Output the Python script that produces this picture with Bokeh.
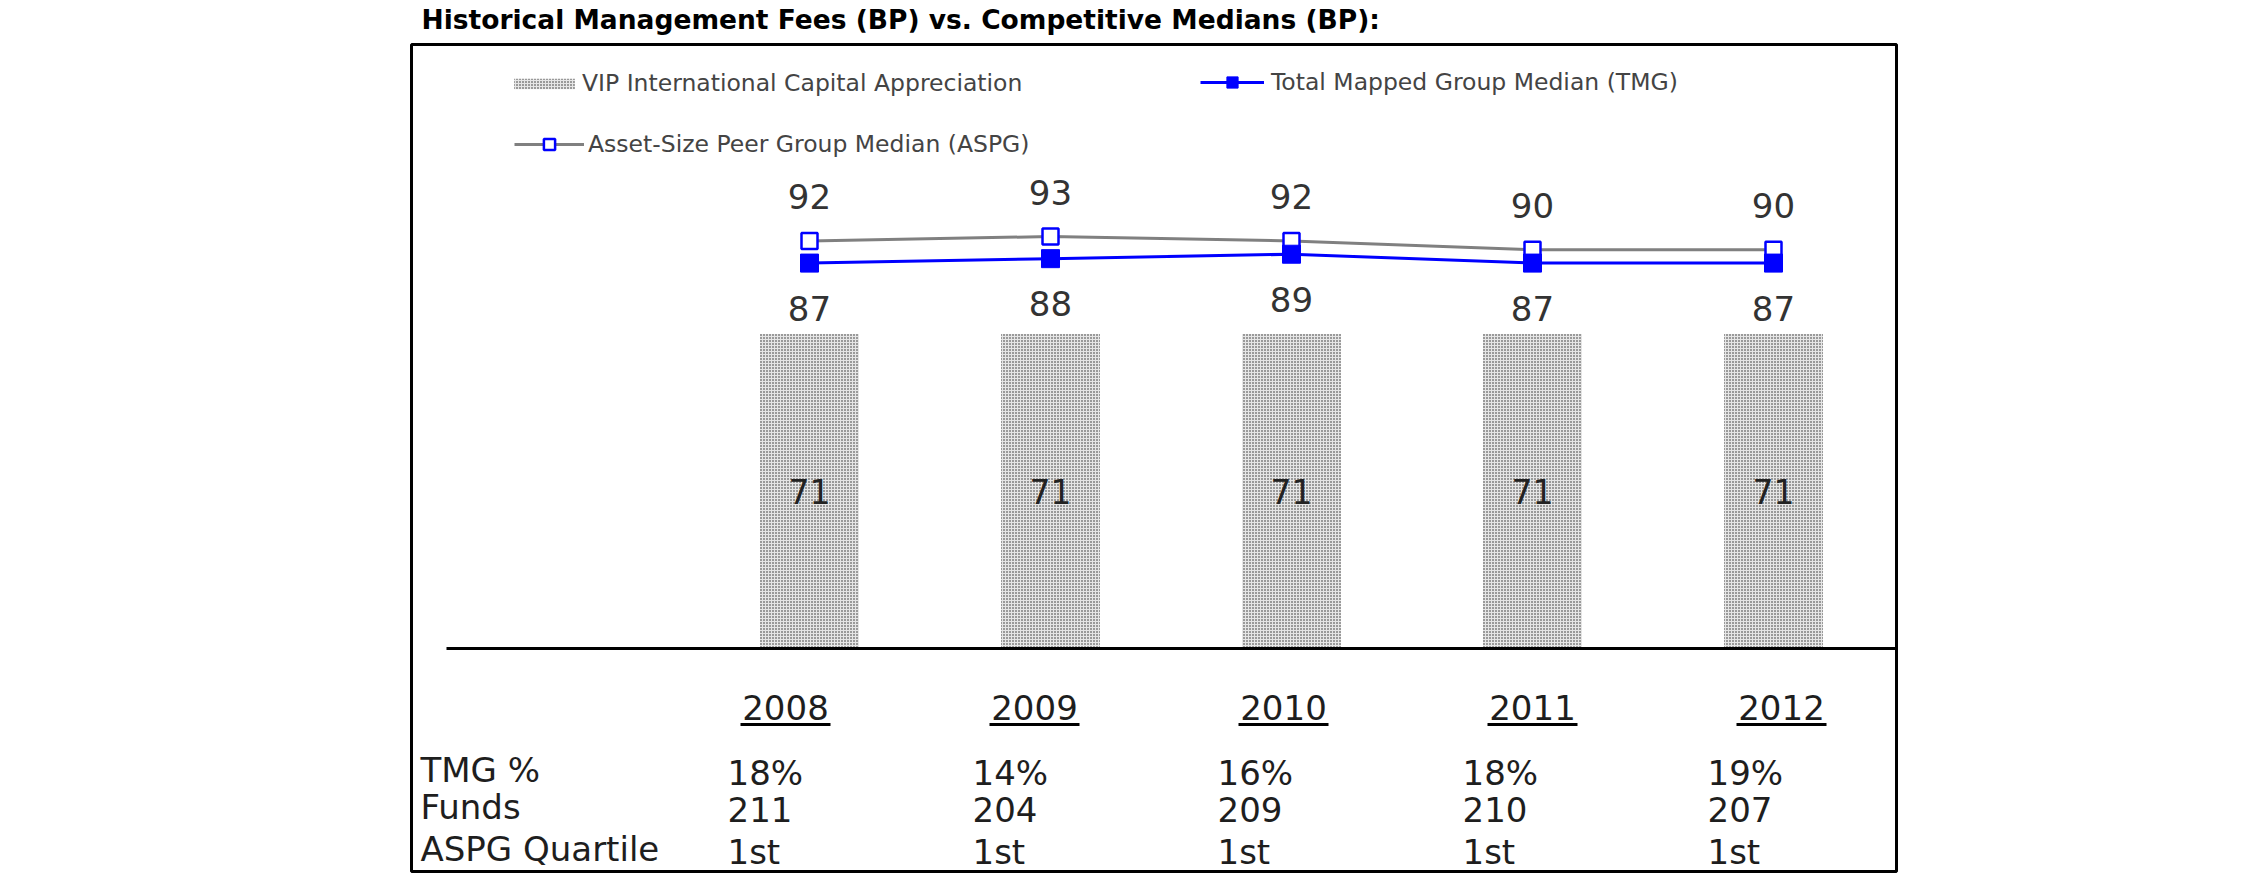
from bokeh.plotting import figure
from bokeh.models import (Range1d, ColumnDataSource, Legend, LegendItem, Label,
                          BoxAnnotation)
from bokeh.core.properties import value
from bokeh.embed import file_html
from bokeh.resources import INLINE

# ---------------- data ----------------
years = ["2008", "2009", "2010", "2011", "2012"]
vip_fee = [71, 71, 71, 71, 71]
tmg_median = [87, 88, 89, 87, 87]
aspg_median = [92, 93, 92, 90, 90]
tmg_pct = ["18%", "14%", "16%", "18%", "19%"]
funds = [211, 204, 209, 210, 207]
aspg_quartile = ["1st", "1st", "1st", "1st", "1st"]
row_labels = ["TMG %", "Funds", "ASPG Quartile"]

title_text = "Historical Management Fees (BP) vs. Competitive Medians (BP):"
vip_name = "VIP International Capital Appreciation"
tmg_name = "Total Mapped Group Median (TMG)"
aspg_name = "Asset-Size Peer Group Median (ASPG)"

# ---------------- layout constants (pixels) ----------------
W, H = 2240, 885
X0, DX = 809, 241       # pixel of first category centre, step
Y0, DY = 648, 4.43      # pixel row of value 0, pixels per unit
TX0, TDX = 785, 249     # table year columns
VX0, VDX = 727, 245     # table value columns (left edges)
FONT_NAME = "DejaVu Sans"
FONT = value(FONT_NAME)

p = figure(width=W, height=H, output_backend="svg", toolbar_location=None,
           x_range=Range1d(-X0 / DX, (W - X0) / DX),
           y_range=Range1d(-(H - Y0) / DY, Y0 / DY),
           x_axis_location=None, y_axis_location=None,
           min_border=0, outline_line_color=None,
           background_fill_color="white", border_fill_color="white")
p.xgrid.visible = False
p.ygrid.visible = False
p.extra_x_ranges = {"tx": Range1d(-TX0 / TDX, (W - TX0) / TDX),
                    "vx": Range1d(-VX0 / VDX, (W - VX0) / VDX)}
p.extra_y_ranges = {"ty": Range1d(H - Y0, -Y0)}   # pixels below the baseline

idx = list(range(len(years)))
src = ColumnDataSource(dict(
    x=idx,
    vip=vip_fee,
    vip_mid=[v / 2 for v in vip_fee],
    vip_lbl=[str(v) for v in vip_fee],
    tmg=tmg_median,
    tmg_lbl=[str(v) for v in tmg_median],
    aspg=aspg_median,
    aspg_lbl=[str(v) for v in aspg_median],
    year=years,
    pct=tmg_pct,
    funds=[str(v) for v in funds],
    quart=aspg_quartile,
    ul0=[i - 45 / TDX for i in idx],
    ul1=[i + 45 / TDX for i in idx],
))

# bars
bar_style = dict(fill_color="#e6e6e6", line_color=None, hatch_pattern="dot",
                 hatch_color="#262626", hatch_scale=3, hatch_weight=1.9)
bars = p.vbar(x="x", top="vip", bottom=0, width=99 / DX, source=src, **bar_style)

# lines + markers
aspg_line = p.line("x", "aspg", source=src, line_color="#808080", line_width=3)
tmg_line = p.line("x", "tmg", source=src, line_color="#0000ff", line_width=3)
aspg_pts = p.scatter("x", "aspg", source=src, marker="square", size=16,
                     line_color="#0000ff", line_width=2.5, fill_color="white")
tmg_pts = p.scatter("x", "tmg", source=src, marker="square", size=18,
                    line_color="#0000ff", fill_color="#0000ff")

lbl_style = dict(text_align="center", text_baseline="middle", text_font=FONT,
                 text_font_size="34px", text_color="#333333")
p.text("x", "aspg", text="aspg_lbl", source=src, y_offset=-44, **lbl_style)
p.text("x", "tmg", text="tmg_lbl", source=src, y_offset=45, **lbl_style)
p.text("x", "vip_mid", text="vip_lbl", source=src,
       **{**lbl_style, "text_font_size": "33px", "text_color": "#222222"})

# baseline and frame box (screen y measured from the bottom)
p.add_layout(BoxAnnotation(left=446, right=1896, left_units="screen", right_units="screen",
                           top=0, bottom=0, fill_alpha=0, line_color="black",
                           line_alpha=1, line_width=3))
p.add_layout(BoxAnnotation(left=411, right=1896, top=H - 44, bottom=H - 871,
                           left_units="screen", right_units="screen",
                           top_units="screen", bottom_units="screen",
                           fill_alpha=0, line_color="black", line_alpha=1, line_width=3))

# table
tbl = dict(y_range_name="ty", text_font=FONT, text_font_size="34px",
           text_color="#1e1e1e", text_baseline="middle")
p.text("x", 59, text="year", source=src, text_align="center", x_range_name="tx", **tbl)
p.segment("ul0", 76, "ul1", 76, source=src, x_range_name="tx", y_range_name="ty",
          line_color="black", line_width=3)
for field, yy in [("pct", 124), ("funds", 161), ("quart", 203)]:
    p.text("x", yy, text=field, source=src, text_align="left", x_range_name="vx", **tbl)
p.text(x=[(420 - TX0) / TDX] * 3, y=[121, 158, 200], text=row_labels,
       text_align="left", x_range_name="tx", **tbl)

# title
p.add_layout(Label(x=421, y=H - 19, x_units="screen", y_units="screen", text=title_text,
                   text_font=FONT_NAME, text_font_size="26.5px", text_font_style="bold",
                   text_color="black", text_baseline="alphabetic"))

# legends (location = bottom-left corner, measured from the bottom)
def add_legend(label, renderers, x, y, gw, gh, standoff):
    lg = Legend(items=[LegendItem(label=label, renderers=renderers)],
                location=(x, y), padding=0, margin=0, spacing=0,
                glyph_width=gw, glyph_height=gh, label_standoff=standoff,
                label_height=28, label_text_font=FONT_NAME,
                label_text_font_size="23.5px", label_text_color="#444444",
                border_line_color=None, background_fill_alpha=0)
    p.add_layout(lg)

add_legend(vip_name, [bars], 506, H - 97, 76, 13, 0)
add_legend(tmg_name, [tmg_line, tmg_pts], 1200, H - 96, 64, 28, 7)
add_legend(aspg_name, [aspg_line, aspg_pts], 514, H - 158, 70, 28, 4)

open("out.html", "w").write(file_html(p, INLINE))
